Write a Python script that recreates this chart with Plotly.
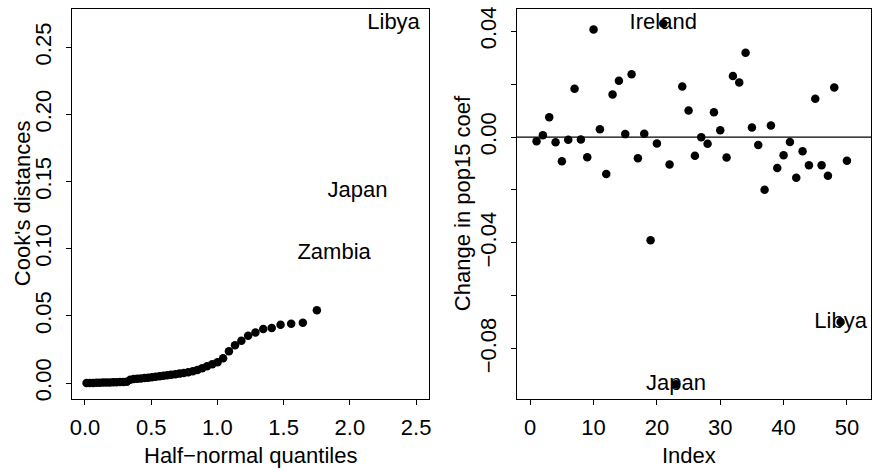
import plotly.graph_objects as go

# ---- Left panel: half-normal plot of Cook's distances ----
hn_quantiles = [0.012, 0.037, 0.062, 0.087, 0.112, 0.137, 0.162, 0.187, 0.213, 0.238,
                0.264, 0.290, 0.316, 0.342, 0.369, 0.395, 0.422, 0.450, 0.477, 0.505,
                0.534, 0.563, 0.592, 0.621, 0.651, 0.682, 0.714, 0.746, 0.779, 0.814,
                0.849, 0.885, 0.922, 0.961, 1.001, 1.043, 1.087, 1.133, 1.181, 1.232,
                1.287, 1.346, 1.410, 1.477, 1.557, 1.645, 1.751]
cooks_sorted = [0.0000, 0.0001, 0.0001, 0.0002, 0.0002, 0.0003, 0.0003, 0.0004, 0.0005, 0.0006,
                0.0007, 0.0008, 0.0010, 0.0025, 0.0030, 0.0032, 0.0034, 0.0037, 0.0040, 0.0043,
                0.0046, 0.0050, 0.0054, 0.0058, 0.0062, 0.0066, 0.0070, 0.0075, 0.0081, 0.0088,
                0.0097, 0.0110, 0.0125, 0.0140, 0.0155, 0.0185, 0.0237, 0.0281, 0.0315, 0.0352,
                0.0377, 0.0402, 0.0409, 0.0434, 0.0441, 0.0448, 0.0542]
label_names = ["Zambia", "Japan", "Libya"]
label_quantiles = [1.881, 2.058, 2.330]
label_cooks = [0.0968, 0.1427, 0.2680]
left_xticks = [0.0, 0.5, 1.0, 1.5, 2.0, 2.5]
left_yticks = [0.00, 0.05, 0.10, 0.15, 0.20, 0.25]

# ---- Right panel: change in pop15 coefficient ----
index = list(range(1, 51))
dfb_pop15 = [-0.0016, 0.0007, 0.0075, -0.0020, -0.0091, -0.0010, 0.0182, -0.0009, -0.0076, 0.0406,
             0.0029, -0.0140, 0.0161, 0.0213, 0.0011, 0.0237, -0.0080, 0.0012, -0.0390, -0.0024,
             0.0429, -0.0104, -0.0934, 0.0191, 0.0100, -0.0071, -0.0001, -0.0025, 0.0094, 0.0026,
             -0.0077, 0.0231, 0.0206, 0.0318, 0.0036, -0.0030, -0.0199, 0.0044, -0.0117, -0.0069,
             -0.0019, -0.0154, -0.0054, -0.0107, 0.0145, -0.0107, -0.0146, 0.0187, -0.0699, -0.0090]
right_label_names = ["Ireland", "Japan", "Libya"]
right_label_index = [21, 23, 49]
right_xticks = [0, 10, 20, 30, 40, 50]
right_yticks = [-0.08, -0.06, -0.04, -0.02, 0.00, 0.02, 0.04]
right_yticktext = ["\u22120.08", "", "\u22120.04", "", "0.00", "", "0.04"]

W, H = 873, 470
FONT = "Liberation Sans, Arial, Helvetica, sans-serif"
FS = 22

def px_x(p):
    return p / W

def px_y(p):
    return 1 - p / H

fig = go.Figure()

fig.add_trace(go.Scatter(x=hn_quantiles, y=cooks_sorted, mode="markers",
                         marker=dict(color="black", size=8.5), xaxis="x", yaxis="y",
                         showlegend=False))
fig.add_trace(go.Scatter(x=label_quantiles, y=label_cooks, mode="text", text=label_names,
                         textposition="middle center",
                         textfont=dict(family=FONT, size=FS, color="black"),
                         xaxis="x", yaxis="y", showlegend=False))

fig.add_trace(go.Scatter(x=index, y=dfb_pop15, mode="markers",
                         marker=dict(color="black", size=8.5), xaxis="x2", yaxis="y2",
                         showlegend=False))
fig.add_trace(go.Scatter(x=right_label_index,
                         y=[dfb_pop15[i - 1] for i in right_label_index],
                         mode="text", text=right_label_names, textposition="middle center",
                         textfont=dict(family=FONT, size=FS, color="black"),
                         xaxis="x2", yaxis="y2", showlegend=False, cliponaxis=True))

L_dom = [px_x(70.3), px_x(429.3)]
R_dom = [px_x(517.3), 1.0]
Y_dom = [px_y(400), px_y(6.7)]

axis_common = dict(showline=True, linecolor="black", linewidth=1, mirror=True,
                   ticks="outside", ticklen=5, tickcolor="black", tickwidth=1,
                   showgrid=False, zeroline=False,
                   tickfont=dict(family=FONT, size=FS, color="black"))

fig.update_layout(
    width=W, height=H,
    margin=dict(l=0, r=0, t=0, b=0),
    paper_bgcolor="white", plot_bgcolor="white",
    xaxis=dict(domain=L_dom, range=[-0.098, 2.60], tickvals=left_xticks,
               ticktext=["0.0", "0.5", "1.0", "1.5", "2.0", "2.5"],
               anchor="y", ticklabelstandoff=4, **axis_common),
    yaxis=dict(domain=Y_dom, range=[-0.0116, 0.2788], tickvals=left_yticks,
               ticktext=["0.00", "0.05", "0.10", "0.15", "0.20", "0.25"],
               tickangle=-90, anchor="x", ticklabelstandoff=6, **axis_common),
    xaxis2=dict(domain=R_dom, range=[-2.1, 53.8], tickvals=right_xticks,
                anchor="y2", ticklabelstandoff=4, **axis_common),
    yaxis2=dict(domain=Y_dom, range=[-0.0988, 0.0485], tickvals=right_yticks,
                ticktext=right_yticktext, tickangle=-90, anchor="x2",
                ticklabelstandoff=6, **axis_common),
    shapes=[dict(type="line", xref="x2 domain", yref="y2", x0=0, x1=1, y0=0, y1=0,
                 line=dict(color="black", width=1.2))],
    annotations=[
        dict(text="Half\u2212normal quantiles", x=(L_dom[0] + L_dom[1]) / 2, y=px_y(457),
             xref="paper", yref="paper", showarrow=False, xanchor="center", yanchor="middle",
             font=dict(family=FONT, size=FS, color="black")),
        dict(text="Index", x=px_x(690), y=px_y(457),
             xref="paper", yref="paper", showarrow=False, xanchor="center", yanchor="middle",
             font=dict(family=FONT, size=FS, color="black")),
        dict(text="Cook's distances", x=px_x(20), y=px_y(203),
             xref="paper", yref="paper", showarrow=False, xanchor="center", yanchor="middle",
             textangle=-90, font=dict(family=FONT, size=FS, color="black")),
        dict(text="Change in pop15 coef", x=px_x(462), y=px_y(203),
             xref="paper", yref="paper", showarrow=False, xanchor="center", yanchor="middle",
             textangle=-90, font=dict(family=FONT, size=FS, color="black")),
    ],
)

fig.write_html("out.html", config={"displayModeBar": False},
               post_script="document.body.style.margin='0px';document.body.style.padding='0px';")
